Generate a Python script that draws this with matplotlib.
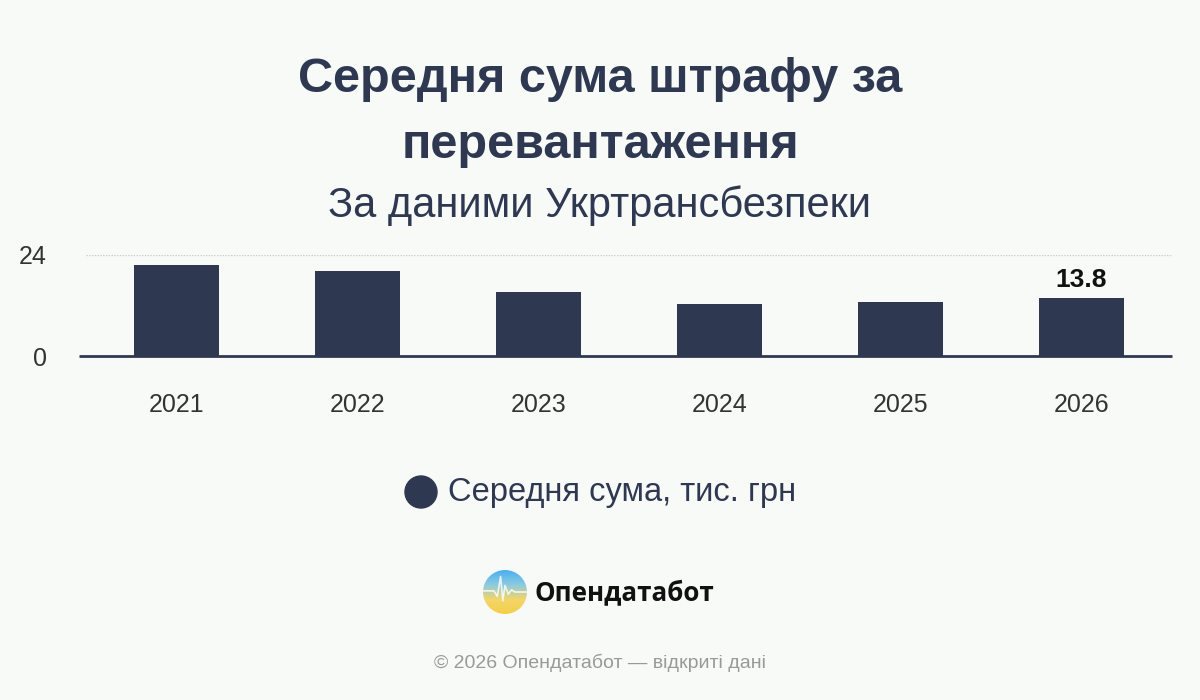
import numpy as np
import matplotlib
matplotlib.use("Agg")
import matplotlib.pyplot as plt
from matplotlib.patches import Circle, Ellipse

plt.rcParams['font.family'] = ['Liberation Sans', 'DejaVu Sans']

years = ["2021", "2022", "2023", "2024", "2025", "2026"]
avg_fine = [21.7, 20.3, 15.2, 12.3, 12.9, 13.8]
y_ticks = [0, 24]

BG = "#f8faf8"
NAVY = "#2e3850"

fig = plt.figure(figsize=(12, 7), dpi=100, facecolor=BG)

fig.text(0.5, 1 - 80 / 700, "Середня сума штрафу за", ha="center", va="center",
         fontsize=35, fontweight="bold", color=NAVY)
fig.text(0.5, 1 - 146 / 700, "перевантаження", ha="center", va="center",
         fontsize=35, fontweight="bold", color=NAVY)
fig.text(0.5, 1 - 206 / 700, "За даними Укртрансбезпеки", ha="center", va="center",
         fontsize=30, color=NAVY)

ax = fig.add_axes([86 / 1200, 1 - 356 / 700, 1086 / 1200, 101 / 700])
ax.set_facecolor(BG)
x = np.arange(len(years))
ax.bar(x, avg_fine, width=0.465, color=NAVY, zorder=3)
ax.set_xlim(-0.5, len(years) - 0.5)
ax.set_ylim(0, 24)
ax.set_yticks(y_ticks)
ax.set_xticks(x, years)
ax.axhline(24, color="#cccccc", lw=1, ls=(0, (1, 1)), zorder=1)
ax.plot([-0.54, len(years) - 0.5], [0, 0], color=NAVY, lw=2, zorder=4, clip_on=False,
        solid_capstyle="butt")
for s in ax.spines.values():
    s.set_visible(False)
ax.tick_params(axis="y", length=0, pad=28, labelsize=18, labelcolor="#333333")
ax.tick_params(axis="x", length=0, pad=27, labelsize=18, labelcolor="#333333")
ax.text(x[-1], avg_fine[-1] + 1.3, f"{avg_fine[-1]}", ha="center", va="bottom",
        fontsize=19, fontweight="bold", color="#111111")

# legend
fig.patches.append(Ellipse((421 / 1200, 1 - 492 / 700), 32 / 1200, 32 / 700,
                           transform=fig.transFigure, color=NAVY))
fig.text(448 / 1200, 1 - 493 / 700, "Середня сума, тис. грн", ha="left", va="center",
         fontsize=23.5, color=NAVY)

# logo
lax = fig.add_axes([483 / 1200, 1 - 614 / 700, 44 / 1200, 44 / 700])
lax.set_axis_off()
grad = np.linspace(0, 1, 100)[:, None] * np.ones((1, 100))
cmap = matplotlib.colors.LinearSegmentedColormap.from_list("ua", ["#4ab0f0", "#8ccbe0", "#f3d56a", "#f5cf4a"])
im = lax.imshow(grad, cmap=cmap, extent=(-1, 1, -1, 1), origin="upper")
clip = Circle((0, 0), 1, transform=lax.transData)
im.set_clip_path(clip)
lax.plot([-1, -0.5, -0.35, -0.2, -0.1, 0.0, 0.15, 0.3, 0.45, 1],
         [0.05, 0.05, -0.2, 0.7, -0.4, 0.3, -0.1, 0.1, 0.0, 0.0],
         color="white", lw=1.2, alpha=0.8, clip_path=clip)
lax.set_xlim(-1, 1)
lax.set_ylim(-1, 1)
fig.text(535 / 1200, 1 - 593 / 700, "Опендатабот", ha="left", va="center",
         fontsize=18.7, fontweight="bold", color="#111111", family=["Open Sans", "DejaVu Sans"])

fig.text(0.5, 1 - 663 / 700, "© 2026 Опендатабот — відкриті дані", ha="center", va="center",
         fontsize=14, color="#999999")

fig.savefig("out.png", dpi=100, facecolor=BG)
